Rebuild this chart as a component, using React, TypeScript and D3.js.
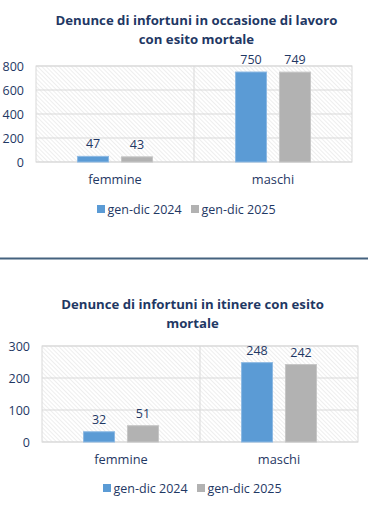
import * as d3 from 'd3'
import { useEffect, useRef } from 'react'

// categories and series
const categories = ['femmine', 'maschi']
const seriesNames = ['gen-dic 2024', 'gen-dic 2025']

// Denunce in occasione di lavoro
const lavoro2024 = [47, 750]
const lavoro2025 = [43, 749]
const lavoroTicks = [0, 200, 400, 600, 800]

// Denunce in itinere
const itinere2024 = [32, 248]
const itinere2025 = [51, 242]
const itinereTicks = [0, 100, 200, 300]

const colors = ['#5b9bd5', '#b2b2b2']
const strokes = ['#8db9e3', '#c6c6c6']
const textColor = '#1f3864'
const font = "'Open Sans', sans-serif"

type ChartOpts = {
  title: string[]
  titleX: number
  titleY: number
  left: number
  right: number
  top: number
  bottom: number
  ticks: number[]
  values: number[][]
  catY: number
  legendY: number
  legendX: number
}

const drawChart = (root: d3.Selection<SVGGElement, unknown, null, undefined>, o: ChartOpts) => {
  const g = root.append('g')

  // title
  g.append('text')
    .attr('x', o.titleX)
    .attr('y', o.titleY)
    .attr('text-anchor', 'middle')
    .attr('font-family', font)
    .attr('font-weight', 700)
    .attr('font-size', 13.2)
    .attr('fill', textColor)
    .selectAll('tspan')
    .data(o.title)
    .enter()
    .append('tspan')
    .attr('x', o.titleX)
    .attr('dy', (_d, i) => (i === 0 ? 0 : 19))
    .text((d) => d)

  const x0 = d3.scaleBand().domain(categories).range([o.left, o.right])
  const bw = x0.bandwidth()
  const x1 = d3
    .scaleBand()
    .domain(seriesNames)
    .range([bw * 0.263, bw * 0.737])
    .paddingInner(0.295)
  const y = d3
    .scaleLinear()
    .domain([0, o.ticks[o.ticks.length - 1]])
    .range([o.bottom, o.top])

  // plot background with hatch
  g.append('rect')
    .attr('x', o.left)
    .attr('y', o.top)
    .attr('width', o.right - o.left)
    .attr('height', o.bottom - o.top)
    .attr('fill', 'url(#hatch)')
    .attr('stroke', '#d9d9d9')

  // gridlines
  g.append('g')
    .selectAll('line')
    .data(o.ticks)
    .enter()
    .append('line')
    .attr('x1', o.left)
    .attr('x2', o.right)
    .attr('y1', (d) => y(d))
    .attr('y2', (d) => y(d))
    .attr('stroke', '#d9d9d9')

  // category divider
  g.append('line')
    .attr('x1', x0('maschi')!)
    .attr('x2', x0('maschi')!)
    .attr('y1', o.top)
    .attr('y2', o.bottom)
    .attr('stroke', '#d9d9d9')

  // Y labels
  g.append('g')
    .selectAll('text')
    .data(o.ticks)
    .enter()
    .append('text')
    .attr('x', o.left - 12)
    .attr('y', (d) => y(d) + 4.5)
    .attr('text-anchor', 'end')
    .attr('font-family', font)
    .attr('font-size', 12.5)
    .attr('fill', textColor)
    .text((d) => d)

  // bars
  const groups = g
    .append('g')
    .selectAll('g')
    .data(categories)
    .enter()
    .append('g')
    .attr('transform', (d) => `translate(${x0(d)},0)`)

  groups
    .selectAll('rect')
    .data((_d, ci) => seriesNames.map((s, si) => ({ s, si, v: o.values[si][ci] })))
    .enter()
    .append('rect')
    .attr('x', (d) => x1(d.s)!)
    .attr('y', (d) => y(d.v))
    .attr('width', x1.bandwidth())
    .attr('height', (d) => o.bottom - y(d.v))
    .attr('fill', (d) => colors[d.si])
    .attr('stroke', (d) => strokes[d.si])
    .attr('stroke-width', 1)

  groups
    .selectAll('text')
    .data((_d, ci) => seriesNames.map((s, si) => ({ s, si, v: o.values[si][ci] })))
    .enter()
    .append('text')
    .attr('x', (d) => x1(d.s)! + x1.bandwidth() / 2)
    .attr('y', (d) => y(d.v) - 8)
    .attr('text-anchor', 'middle')
    .attr('font-family', font)
    .attr('font-size', 12.5)
    .attr('fill', textColor)
    .text((d) => d.v)

  // category labels
  g.append('g')
    .selectAll('text')
    .data(categories)
    .enter()
    .append('text')
    .attr('x', (d) => x0(d)! + bw / 2)
    .attr('y', o.catY + 4.5)
    .attr('text-anchor', 'middle')
    .attr('font-family', font)
    .attr('font-size', 12.8)
    .attr('fill', textColor)
    .text((d) => d)

  // legend
  const leg = g
    .append('g')
    .selectAll('g')
    .data(seriesNames)
    .enter()
    .append('g')
    .attr('transform', (_d, i) => `translate(${o.legendX + i * 94},${o.legendY})`)
  leg
    .append('rect')
    .attr('x', 0)
    .attr('y', -4)
    .attr('width', 8)
    .attr('height', 8)
    .attr('fill', (_d, i) => colors[i])
  leg
    .append('text')
    .attr('x', 10.5)
    .attr('y', 4.5)
    .attr('font-family', font)
    .attr('font-size', 12.5)
    .attr('fill', textColor)
    .text((d) => d)
}

const App = () => {
  const ref = useRef<SVGSVGElement>(null)

  useEffect(() => {
    if (!ref.current) return
    const svg = d3.select(ref.current)
    svg.selectAll('*').remove()

    const defs = svg.append('defs')
    const pat = defs
      .append('pattern')
      .attr('id', 'hatch')
      .attr('patternUnits', 'userSpaceOnUse')
      .attr('width', 3)
      .attr('height', 3)
      .attr('patternTransform', 'rotate(-45)')
    pat.append('rect').attr('width', 3).attr('height', 3).attr('fill', '#ffffff')
    pat
      .append('line')
      .attr('x1', 0)
      .attr('y1', 0)
      .attr('x2', 0)
      .attr('y2', 3)
      .attr('stroke', '#e4e4e4')
      .attr('stroke-width', 1.2)

    const root = svg.append('g') as d3.Selection<SVGGElement, unknown, null, undefined>

    drawChart(root, {
      title: ['Denunce di infortuni in occasione di lavoro', 'con esito mortale'],
      titleX: 196.5,
      titleY: 25,
      left: 36,
      right: 352,
      top: 66,
      bottom: 162,
      ticks: lavoroTicks,
      values: [lavoro2024, lavoro2025],
      catY: 179,
      legendY: 209,
      legendX: 97,
    })

    // separator
    svg
      .append('rect')
      .attr('x', 0)
      .attr('y', 257.5)
      .attr('width', 368)
      .attr('height', 2)
      .attr('fill', '#45627f')

    drawChart(root, {
      title: ['Denunce di infortuni in itinere con esito', 'mortale'],
      titleX: 192.5,
      titleY: 308.5,
      left: 42,
      right: 358,
      top: 346,
      bottom: 442,
      ticks: itinereTicks,
      values: [itinere2024, itinere2025],
      catY: 459,
      legendY: 488,
      legendX: 103,
    })
  }, [])

  return (
    <div style={{ position: 'absolute', left: 0, top: 0 }}>
      <svg ref={ref} width={369} height={505} style={{ display: 'block', background: '#ffffff' }} />
    </div>
  )
}

export default App
